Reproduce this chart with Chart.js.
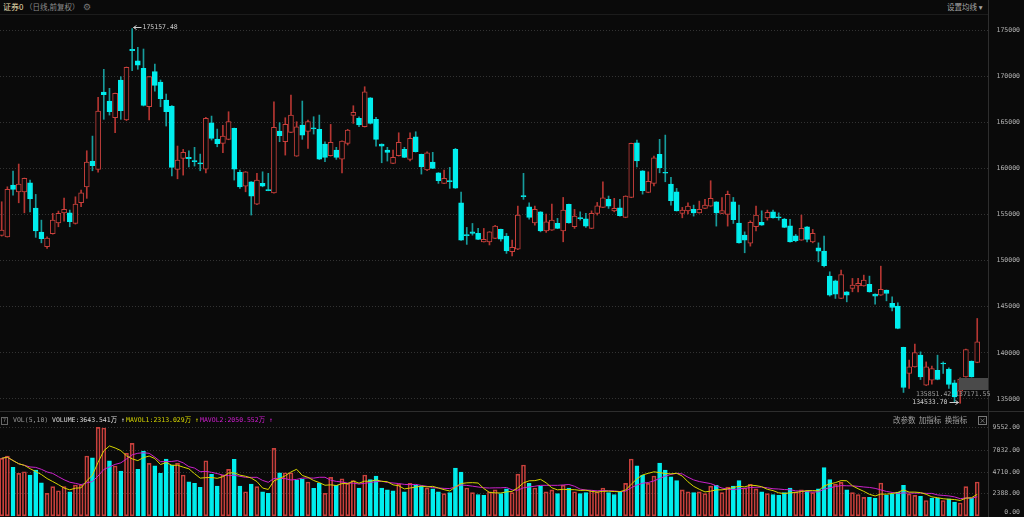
<!DOCTYPE html>
<html>
<head>
<meta charset="utf-8">
<script src="https://cdn.jsdelivr.net/npm/chart.js@4.4.1/dist/chart.umd.min.js"></script>
<style>
  html, body { margin: 0; padding: 0; background: #0a0a0a; }
  body { width: 1024px; height: 517px; position: relative; overflow: hidden;
         font-family: "Noto Sans CJK SC", "DejaVu Sans", sans-serif; }
  .txt { position: absolute; white-space: nowrap; line-height: 1; }
  .mono { font-family: "DejaVu Sans Mono", "Noto Sans CJK SC", monospace; }
  .line { position: absolute; }
  #priceWrap { position: absolute; left: 0; top: 16px; width: 1024px; height: 392px; }
  #volWrap { position: absolute; left: 0; top: 424px; width: 1024px; height: 93px; }
</style>
</head>
<body>
<div class="line" style="left:0;top:14px;width:988px;height:1px;background:#1c1c1c"></div>
<div class="line" style="left:988px;top:0;width:1px;height:517px;background:#2e2e2e"></div>
<div class="line" style="left:0;top:411px;width:1024px;height:1px;background:#2e2e2e"></div>

<div id="priceWrap"><canvas id="priceChart"></canvas></div>
<div id="volWrap"><canvas id="volChart"></canvas></div>

<!-- header -->
<div class="txt" style="left:3px;top:3px;font-size:8px;color:#e8dfae">证券0</div>
<div class="txt" style="left:25px;top:3px;font-size:7.5px;color:#8c8c8c">（日线,前复权）</div>
<div class="txt" style="left:83px;top:2px;font-size:9px;color:#777">⚙</div>
<div class="txt" style="left:947px;top:3px;font-size:7.5px;color:#a8a8a8">设置均线 ▾</div>

<!-- price notes -->
<div class="line" style="left:959px;top:378px;width:29px;height:12px;background:#4a4a4a;z-index:2"></div>
<div class="txt mono" style="left:916px;top:391px;font-size:6.5px;color:#9a9a9a;z-index:3">135851.42-137171.55</div>

<!-- volume header -->
<div class="txt mono" style="left:1px;top:417px;width:5px;height:6px;border:1px solid #666;font-size:5.5px;color:#888;text-align:center">?</div>
<div class="txt mono" style="left:13px;top:417px;font-size:6.5px;color:#9a9a9a">VOL(5,10)</div>
<div class="txt mono" style="left:52px;top:417px;font-size:6.5px;color:#dcdcdc">VOLUME:3643.541万 ↑</div>
<div class="txt mono" style="left:126px;top:417px;font-size:6.5px;color:#d6d600">MAVOL1:2313.029万 ↑</div>
<div class="txt mono" style="left:200px;top:417px;font-size:6.5px;color:#d21fd2">MAVOL2:2050.552万 ↑</div>
<div class="txt" style="left:893px;top:416px;font-size:7.5px;color:#a0a0a0">改参数&nbsp;&nbsp;加指标&nbsp;&nbsp;换指标</div>
<div class="txt" style="left:978px;top:416px;width:7px;height:7px;border:1px solid #777;font-size:7px;color:#999;text-align:center">×</div>

<script>
// daily OHLC
const opens = [
  152730, 152580, 158190, 157460, 157460, 158440, 155690, 153090, 151500, 152910,
  154100, 155180, 155180, 154030, 156270, 158000, 160790, 159890, 168280, 167300,
  165490, 169580, 165240, 172910, 171670, 170850, 166680, 170480, 169360, 167410,
  166760, 159890, 161080, 161190, 160850, 160600, 159920, 164950, 163180, 162710,
  163150, 164340, 159570, 158080, 158550, 156130, 158370, 157700, 157350, 164050,
  162890, 163900, 161330, 164700, 164010, 164390, 164230, 162640, 161370, 161990,
  161010, 162710, 165750, 165420, 164510, 167660, 165320, 162640, 161990, 160540,
  161370, 162060, 160980, 163430, 161520, 159820, 160680, 159520, 158370, 158680,
  162060, 156270, 152820, 153120, 152950, 152040, 152040, 152410, 153380, 152660,
  150960, 151250, 157050, 155840, 154100, 155290, 153230, 153310, 154030, 153230,
  156100, 153670, 154660, 154530, 153490, 155120, 155770, 156640, 155400, 155730,
  154690, 156850, 162780, 159740, 157400, 158370, 161520, 159580, 158300, 157460,
  155120, 155400, 155550, 155180, 155660, 155910, 156380, 155120, 155010, 156380,
  154070, 152760, 151890, 153670, 154140, 154640, 155290, 154740, 154500, 153770,
  152690, 152220, 153670, 152040, 151390, 151030, 148320, 147810, 145900, 146620,
  146990, 147270, 147270, 147420, 146370, 146260, 146800, 145360, 145070, 140590,
  137770, 138480, 139750, 136500, 137040, 138120, 138900, 138230, 136750, 135851.42,
  137400, 139100, 138960
];
const highs = [
  156380, 158000, 159710, 160470, 158950, 158730, 157180, 154390, 152580, 155120,
  155370, 156780, 155480, 156920, 157650, 161910, 163500, 167700, 170740, 168680,
  168170, 169940, 170990, 175157.48, 173120, 172940, 169960, 171310, 169580, 168060,
  166810, 162420, 162060, 161910, 162280, 161550, 165530, 165670, 164260, 164660,
  166140, 164370, 159820, 159650, 158570, 159460, 159630, 159460, 167220, 164950,
  165490, 167950, 165060, 167300, 165240, 165600, 165780, 162890, 164770, 162280,
  162990, 164230, 166790, 165600, 168850, 167680, 165530, 162660, 162280, 161990,
  163860, 162280, 163860, 163970, 161550, 161800, 161740, 159540, 159820, 160110,
  162170, 157430, 153600, 154030, 153490, 153490, 153140, 153820, 153420, 152950,
  152220, 155910, 159460, 156270, 155910, 155310, 155050, 156130, 154580, 156850,
  156130, 155550, 155290, 155120, 155400, 156310, 158550, 157000, 156750, 156640,
  157030, 162740, 163070, 159760, 159630, 161330, 163150, 163610, 159020, 157830,
  155770, 156270, 156020, 156450, 156640, 158660, 156400, 156830, 157540, 156850,
  156020, 153120, 154320, 155910, 155400, 155480, 155480, 155180, 154580, 154470,
  152840, 154940, 153690, 153380, 151930, 152660, 148790, 147890, 148970, 146640,
  148070, 148070, 148430, 148320, 146390, 149400, 146820, 146070, 145430, 140620,
  139210, 140940, 140110, 139020, 138560, 139750, 139020, 138370, 137040, 137300,
  140400, 139130, 143730
];
const lows = [
  152660, 152550, 157100, 156270, 155180, 155290, 152520, 151930, 151320, 152870,
  153670, 154280, 153670, 153960, 155840, 156750, 159740, 159600, 165320, 165780,
  163860, 165320, 165180, 170590, 170740, 166760, 165240, 168380, 166680, 164590,
  159170, 158870, 159270, 160170, 160250, 159740, 159520, 163070, 162340, 161690,
  163100, 158730, 157830, 157460, 154940, 156070, 158000, 157570, 157320, 162890,
  161440, 163860, 161300, 163150, 162170, 163720, 160950, 160720, 161330, 160980,
  159520, 162530, 164880, 164510, 164480, 164810, 162420, 160610, 160790, 160510,
  161330, 161160, 160820, 161770, 159380, 159740, 159970, 158370, 158340, 157830,
  157830, 152190, 151760, 152760, 152270, 152010, 151700, 152380, 152110, 150780,
  150520, 151190, 156640, 154500, 153850, 153120, 153060, 153280, 153460, 152040,
  154070, 153490, 154390, 153600, 153460, 154940, 155740, 155660, 155290, 154830,
  154650, 156820, 160170, 157210, 157360, 158110, 159520, 158550, 156020, 155370,
  154640, 155050, 154830, 155150, 155630, 155880, 153740, 155090, 153740, 154030,
  151900, 150850, 151570, 153230, 153820, 154390, 154610, 154390, 153570, 152010,
  152040, 152190, 152040, 151930, 149870, 149330, 146150, 145900, 145870, 145530,
  146620, 146620, 147230, 146580, 145280, 146230, 145640, 144560, 142610, 135710,
  136140, 138450, 137110, 136460, 136610, 137080, 137770, 136140, 134690, 134533.70,
  137370, 137370, 138930
];
const closes = [
  153310, 157720, 157720, 158300, 158920, 156700, 153230, 152370, 152440, 154390,
  155120, 155550, 154210, 156130, 157350, 160680, 160280, 166220, 167980, 166140,
  168140, 166250, 170960, 172760, 171200, 166830, 169940, 169000, 167550, 166140,
  160110, 160900, 161740, 161040, 160740, 160490, 165420, 163250, 162670, 163500,
  165060, 159920, 158000, 159630, 157000, 158730, 158080, 157590, 164450, 163540,
  164770, 165780, 164510, 163610, 165060, 164280, 161010, 161190, 162820, 161190,
  162960, 164150, 166070, 164700, 168310, 164880, 163150, 162420, 161740, 161190,
  162820, 161190, 163250, 161800, 160170, 161690, 160000, 158660, 158920, 158570,
  157860, 152220, 152710, 152950, 152300, 152300, 153120, 153740, 152330, 151060,
  151430, 154940, 156940, 154690, 155550, 153230, 154210, 154390, 153490, 155480,
  154100, 154830, 154560, 153740, 155120, 155940, 156810, 155910, 155660, 154860,
  157000, 162710, 160820, 157570, 158590, 161150, 160060, 159470, 156490, 155400,
  155480, 155910, 155180, 155550, 156020, 156750, 155180, 155420, 157190, 154450,
  151930, 152220, 154140, 154940, 153850, 155230, 154640, 154630, 153600, 152040,
  152150, 153490, 152300, 152950, 151030, 149440, 146260, 146370, 148500, 146260,
  147340, 147530, 147890, 146620, 146150, 146880, 146440, 144920, 142650, 136250,
  138480, 140040, 137400, 138480, 138310, 137110, 138800, 136570, 135230, 137171.55,
  140370, 137400, 141190
];
// volume in 万
const volumes = [
  6204, 6452, 5233, 4586, 4758, 4402, 4942, 3571, 2428, 3140,
  2708, 3140, 2600, 3323, 3323, 6452, 6269, 9552, 9480, 5945,
  5373, 4834, 6744, 7823, 5017, 6992, 5665, 5406, 4586, 6129,
  5481, 5665, 4402, 3679, 3507, 3075, 5945, 4478, 3215, 4402,
  5017, 6096, 3215, 2600, 3431, 3140, 2600, 2428, 7283, 4650,
  4650, 4650, 3863, 3938, 3647, 2967, 3507, 2428, 4154, 3300,
  4000, 3500, 3800, 3000, 4400, 3900, 4300, 3000, 2800, 2700,
  3400, 2600, 3500, 3300, 3200, 3000, 2900, 2600, 2400, 2500,
  5160, 4730, 3000, 2500, 2300, 2200, 2600, 2800, 2400, 2900,
  2500, 4500, 5480, 3500, 3000, 3200, 2600, 2800, 2400, 3300,
  3000, 2600, 2400, 2500, 2700, 2600, 3000, 2500, 2300, 2600,
  3500, 6130, 5400, 4400, 3500, 4300, 5700, 4940, 4200, 3800,
  2800, 2600, 2500, 2600, 2400, 3200, 3300, 2500, 3100, 3200,
  3800, 3000, 3400, 2900, 2600, 2400, 2300, 2200, 2500, 3000,
  2600, 2800, 2700, 2500, 2900, 5200, 3900, 3400, 3600, 2800,
  2500, 2300, 1996, 1996, 1921, 3539, 2212, 2352, 2568, 3291,
  2352, 2212, 2104, 1650, 1900, 1900, 1650, 1840, 1490, 1381.5,
  3150, 1900, 3643.541
];
const priceTicks = [135000, 140000, 145000, 150000, 155000, 160000, 165000, 170000, 175000];
const volTicks = [2388, 4710, 7032, 9552];
const volLabels = ["0.00", "2388.00", "4710.00", "7032.00", "9552.00"];

const UP = "#c8403c", UP_WICK = "#b53632", DOWN = "#00eeee", DOWN_WICK = "#179c9c", BG = "#0a0a0a";
const LABEL_FONT = '6.5px "DejaVu Sans Mono"';

const idx = opens.map((_, i) => i);
const isUp = idx.map(i => closes[i] >= opens[i]);
const volUp = idx.map(i => i === 0 ? true : closes[i] > closes[i - 1]);

function movingAvg(arr, n) {
  return arr.map((_, i) => {
    const part = arr.slice(Math.max(0, i - n + 1), i + 1);
    return part.reduce((a, b) => a + b, 0) / part.length;
  });
}
const ma5 = movingAvg(volumes, 5);
const ma10 = movingAvg(volumes, 10);

const xAxis = { type: "linear", min: -0.3, max: 173.9, offset: false, display: false };

// price panel
const pricePlugin = {
  id: "priceText",
  afterDraw(chart) {
    const { ctx, scales: { x, y } } = chart;
    ctx.save();
    ctx.font = LABEL_FONT;
    ctx.fillStyle = "#b4b4b4";
    ctx.textAlign = "right";
    ctx.textBaseline = "middle";
    priceTicks.forEach(v => ctx.fillText(String(v), 1020, y.getPixelForValue(v)));

    let hi = 0, lo = 0;
    highs.forEach((h, i) => { if (h > highs[hi]) hi = i; });
    lows.forEach((l, i) => { if (l < lows[lo]) lo = i; });

    ctx.strokeStyle = "#cfcfcf";
    ctx.fillStyle = "#cfcfcf";
    ctx.lineWidth = 1;
    // highest
    const hx = Math.round(x.getPixelForValue(hi)) + 1.5;
    const hy = Math.round(y.getPixelForValue(highs[hi])) - 1.5;
    ctx.beginPath();
    ctx.moveTo(hx, hy); ctx.lineTo(hx + 8, hy);
    ctx.moveTo(hx, hy); ctx.lineTo(hx + 3, hy - 2);
    ctx.moveTo(hx, hy); ctx.lineTo(hx + 3, hy + 2);
    ctx.stroke();
    ctx.textAlign = "left";
    ctx.fillText(highs[hi].toFixed(2), hx + 9, hy);
    // lowest
    const lx = Math.round(x.getPixelForValue(lo)) - 1.5;
    const ly = Math.round(y.getPixelForValue(lows[lo])) - 0.5;
    ctx.beginPath();
    ctx.moveTo(lx, ly); ctx.lineTo(lx - 9, ly);
    ctx.moveTo(lx, ly); ctx.lineTo(lx - 3, ly - 2);
    ctx.moveTo(lx, ly); ctx.lineTo(lx - 3, ly + 2);
    ctx.stroke();
    ctx.textAlign = "right";
    ctx.fillText(lows[lo].toFixed(2), lx - 11, ly);
    ctx.restore();
  }
};

new Chart(document.getElementById("priceChart"), {
  type: "bar",
  data: {
    datasets: [
      {
        label: "body",
        order: 0,
        grouped: false,
        data: idx.map(i => ({ x: i, y: [opens[i], closes[i]] })),
        backgroundColor: idx.map(i => isUp[i] ? BG : DOWN),
        borderColor: idx.map(i => isUp[i] ? UP : DOWN),
        borderWidth: 1,
        borderSkipped: false,
        barThickness: 5
      },
      {
        label: "wick",
        order: 1,
        grouped: false,
        data: idx.map(i => ({ x: i, y: [lows[i], highs[i]] })),
        backgroundColor: idx.map(i => isUp[i] ? UP_WICK : DOWN_WICK),
        borderWidth: 0,
        barThickness: 1
      }
    ]
  },
  options: {
    animation: false,
    responsive: true,
    maintainAspectRatio: false,
    layout: { padding: 0 },
    plugins: { legend: { display: false }, tooltip: { enabled: false } },
    scales: {
      x: xAxis,
      y: {
        position: "right",
        min: 134024,
        max: 176518,
        afterBuildTicks: s => { s.ticks = priceTicks.map(v => ({ value: v })); },
        afterFit: s => { s.width = 36; },
        ticks: { display: false },
        grid: { color: "#333", drawTicks: false },
        border: { display: false, dash: [1, 2] }
      }
    }
  },
  plugins: [pricePlugin]
});

// volume panel
const volPlugin = {
  id: "volText",
  afterDraw(chart) {
    const { ctx, scales: { y } } = chart;
    ctx.save();
    ctx.font = LABEL_FONT;
    ctx.fillStyle = "#b4b4b4";
    ctx.textAlign = "right";
    ctx.textBaseline = "middle";
    [0].concat(volTicks).forEach((v, k) => {
      const py = Math.min(y.getPixelForValue(v), chart.height - 5);
      ctx.fillText(volLabels[k], 1020, py);
    });
    ctx.restore();
  }
};

new Chart(document.getElementById("volChart"), {
  type: "bar",
  data: {
    datasets: [
      {
        type: "line",
        label: "MAVOL1",
        order: 0,
        data: idx.map(i => ({ x: i, y: ma5[i] })),
        borderColor: "#d6d600",
        borderWidth: 1,
        pointRadius: 0,
        tension: 0
      },
      {
        type: "line",
        label: "MAVOL2",
        order: 1,
        data: idx.map(i => ({ x: i, y: ma10[i] })),
        borderColor: "#cc22cc",
        borderWidth: 1,
        pointRadius: 0,
        tension: 0
      },
      {
        label: "VOLUME",
        order: 2,
        data: idx.map(i => ({ x: i, y: volumes[i] })),
        backgroundColor: idx.map(i => volUp[i] ? "rgba(0,0,0,0)" : DOWN),
        borderColor: idx.map(i => volUp[i] ? UP : DOWN),
        borderWidth: 1,
        borderSkipped: false,
        barThickness: 4
      }
    ]
  },
  options: {
    animation: false,
    responsive: true,
    maintainAspectRatio: false,
    layout: { padding: 0 },
    plugins: { legend: { display: false }, tooltip: { enabled: false } },
    scales: {
      x: xAxis,
      y: {
        position: "right",
        min: -130,
        max: 9908,
        afterBuildTicks: s => { s.ticks = volTicks.map(v => ({ value: v })); },
        afterFit: s => { s.width = 36; },
        ticks: { display: false },
        grid: { color: "#333", drawTicks: false },
        border: { display: false, dash: [1, 2] }
      }
    }
  },
  plugins: [volPlugin]
});
</script>
</body>
</html>
